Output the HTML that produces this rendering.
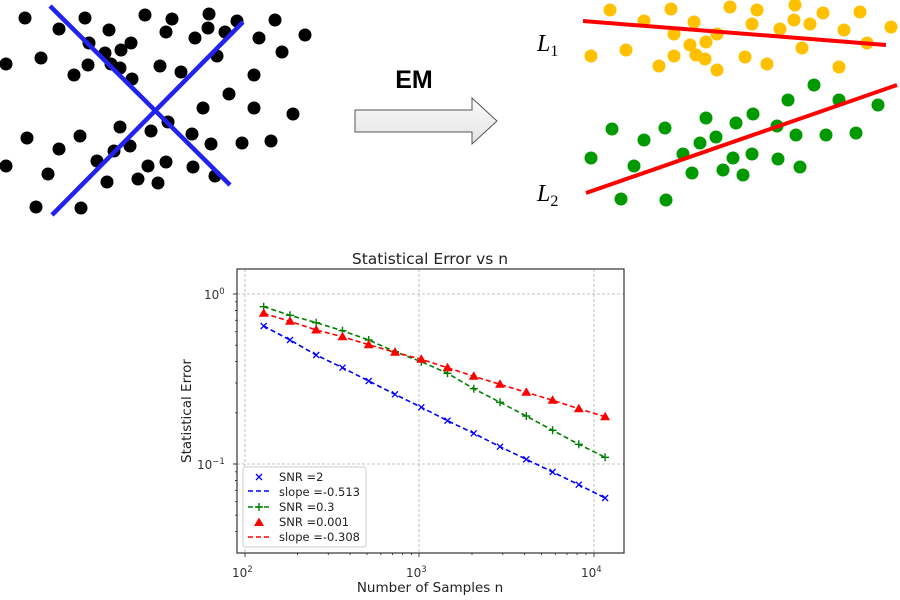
<!DOCTYPE html>
<html><head><meta charset="utf-8"><style>
html,body{margin:0;padding:0;background:#fff;width:900px;height:600px;overflow:hidden}
svg{display:block}
text{font-family:"DejaVu Sans","Liberation Sans",sans-serif}
</style></head><body>
<svg width="900" height="600" viewBox="0 0 900 600" xmlns="http://www.w3.org/2000/svg">
<g fill="#000">
<circle cx="25" cy="18" r="6.5"/><circle cx="85" cy="18" r="6.5"/><circle cx="59" cy="29" r="6.5"/><circle cx="109" cy="30" r="6.5"/><circle cx="145" cy="15" r="6.5"/><circle cx="172" cy="19" r="6.5"/><circle cx="209" cy="14" r="6.5"/><circle cx="237" cy="21" r="6.5"/><circle cx="275" cy="20" r="6.5"/><circle cx="305" cy="35" r="6.5"/><circle cx="166" cy="32" r="6.5"/><circle cx="195" cy="38" r="6.5"/><circle cx="208" cy="28" r="6.5"/><circle cx="225" cy="32" r="6.5"/><circle cx="259" cy="38" r="6.5"/><circle cx="282" cy="52" r="6.5"/><circle cx="89" cy="43" r="6.5"/><circle cx="131" cy="43" r="6.5"/><circle cx="121" cy="50" r="6.5"/><circle cx="105" cy="53" r="6.5"/><circle cx="6" cy="64" r="6.5"/><circle cx="41" cy="58" r="6.5"/><circle cx="88" cy="65" r="6.5"/><circle cx="111" cy="64" r="6.5"/><circle cx="120" cy="68" r="6.5"/><circle cx="74" cy="75" r="6.5"/><circle cx="132" cy="79" r="6.5"/><circle cx="160" cy="66" r="6.5"/><circle cx="181" cy="72" r="6.5"/><circle cx="217" cy="56" r="6.5"/><circle cx="254" cy="75" r="6.5"/><circle cx="229" cy="94" r="6.5"/><circle cx="203" cy="108" r="6.5"/><circle cx="254" cy="108" r="6.5"/><circle cx="293" cy="114" r="6.5"/><circle cx="168" cy="122" r="6.5"/><circle cx="120" cy="127" r="6.5"/><circle cx="151" cy="131" r="6.5"/><circle cx="192" cy="134" r="6.5"/><circle cx="211" cy="144" r="6.5"/><circle cx="242" cy="143" r="6.5"/><circle cx="271" cy="141" r="6.5"/><circle cx="27" cy="138" r="6.5"/><circle cx="80" cy="136" r="6.5"/><circle cx="59" cy="149" r="6.5"/><circle cx="114" cy="151" r="6.5"/><circle cx="130" cy="146" r="6.5"/><circle cx="6" cy="166" r="6.5"/><circle cx="48" cy="174" r="6.5"/><circle cx="97" cy="161" r="6.5"/><circle cx="148" cy="166" r="6.5"/><circle cx="166" cy="162" r="6.5"/><circle cx="193" cy="167" r="6.5"/><circle cx="215" cy="176" r="6.5"/><circle cx="107" cy="182" r="6.5"/><circle cx="138" cy="179" r="6.5"/><circle cx="158" cy="183" r="6.5"/><circle cx="36" cy="207" r="6.5"/><circle cx="81" cy="208" r="6.5"/>
</g>
<line x1="50" y1="6" x2="230" y2="185" stroke="#2222ee" stroke-width="4.5"/>
<line x1="52" y1="215" x2="243" y2="22" stroke="#2222ee" stroke-width="4.5"/>
<text x="414" y="88" font-size="25" font-weight="bold" text-anchor="middle" style="font-family:'Liberation Sans',sans-serif">EM</text>
<defs><linearGradient id="ag" x1="0" y1="0" x2="0" y2="1"><stop offset="0" stop-color="#fafafa"/><stop offset="1" stop-color="#e4e4e4"/></linearGradient></defs>
<polygon points="355,110 472,110 472,98 497,121 472,144 472,132 355,132" fill="url(#ag)" stroke="#555" stroke-width="1"/>
<g fill="#ffc000">
<circle cx="610" cy="10" r="6.5"/><circle cx="671" cy="9" r="6.5"/><circle cx="730" cy="7" r="6.5"/><circle cx="757" cy="10" r="6.5"/><circle cx="795" cy="5" r="6.5"/><circle cx="823" cy="13" r="6.5"/><circle cx="860" cy="12" r="6.5"/><circle cx="891" cy="27" r="6.5"/><circle cx="644" cy="21" r="6.5"/><circle cx="694" cy="22" r="6.5"/><circle cx="752" cy="24" r="6.5"/><circle cx="780" cy="29" r="6.5"/><circle cx="794" cy="20" r="6.5"/><circle cx="810" cy="24" r="6.5"/><circle cx="844" cy="30" r="6.5"/><circle cx="674" cy="34" r="6.5"/><circle cx="717" cy="34" r="6.5"/><circle cx="706" cy="42" r="6.5"/><circle cx="690" cy="45" r="6.5"/><circle cx="867" cy="43" r="6.5"/><circle cx="802" cy="48" r="6.5"/><circle cx="591" cy="56" r="6.5"/><circle cx="626" cy="50" r="6.5"/><circle cx="674" cy="56" r="6.5"/><circle cx="696" cy="55" r="6.5"/><circle cx="705" cy="59" r="6.5"/><circle cx="745" cy="57" r="6.5"/><circle cx="659" cy="66" r="6.5"/><circle cx="717" cy="70" r="6.5"/><circle cx="767" cy="64" r="6.5"/><circle cx="839" cy="67" r="6.5"/>
</g>
<g fill="#009900">
<circle cx="814" cy="85" r="6.5"/><circle cx="788" cy="100" r="6.5"/><circle cx="839" cy="100" r="6.5"/><circle cx="878" cy="105" r="6.5"/><circle cx="706" cy="118" r="6.5"/><circle cx="753" cy="114" r="6.5"/><circle cx="736" cy="123" r="6.5"/><circle cx="612" cy="129" r="6.5"/><circle cx="665" cy="128" r="6.5"/><circle cx="777" cy="126" r="6.5"/><circle cx="644" cy="140" r="6.5"/><circle cx="700" cy="143" r="6.5"/><circle cx="716" cy="137" r="6.5"/><circle cx="796" cy="135" r="6.5"/><circle cx="826" cy="135" r="6.5"/><circle cx="856" cy="133" r="6.5"/><circle cx="591" cy="158" r="6.5"/><circle cx="683" cy="154" r="6.5"/><circle cx="733" cy="158" r="6.5"/><circle cx="752" cy="154" r="6.5"/><circle cx="778" cy="159" r="6.5"/><circle cx="634" cy="166" r="6.5"/><circle cx="692" cy="173" r="6.5"/><circle cx="723" cy="170" r="6.5"/><circle cx="743" cy="175" r="6.5"/><circle cx="800" cy="167" r="6.5"/><circle cx="621" cy="199" r="6.5"/><circle cx="666" cy="200" r="6.5"/>
</g>
<line x1="583" y1="21" x2="886" y2="45" stroke="#ff0000" stroke-width="4"/>
<line x1="586" y1="193" x2="897" y2="85" stroke="#ff0000" stroke-width="4"/>
<text x="537" y="51" font-size="24" font-style="italic" style="font-family:'Liberation Serif',serif">L<tspan font-size="16" dy="5" font-style="normal">1</tspan></text>
<text x="537" y="201" font-size="24" font-style="italic" style="font-family:'Liberation Serif',serif">L<tspan font-size="16" dy="5" font-style="normal">2</tspan></text>

<text x="430" y="264" font-size="15.5" text-anchor="middle" fill="#222">Statistical Error vs n</text>
<g stroke="#b0b0b0" stroke-width="0.8" stroke-dasharray="3,2">
<line x1="245" y1="269" x2="245" y2="553"/><line x1="419" y1="269" x2="419" y2="553"/><line x1="594" y1="269" x2="594" y2="553"/>
<line x1="237" y1="294" x2="624" y2="294"/><line x1="237" y1="464" x2="624" y2="464"/>
</g>
<polyline fill="none" stroke="#0000ff" stroke-width="1.6" stroke-dasharray="5,3" points="263.7,326 290,340 316.2,355 342.5,367.7 368.7,381 395,394.3 421.3,407.3 447.5,420.7 473.8,433.3 500,446.7 526.3,459.3 552.6,472 578.8,484.7 605.1,498"/>
<g stroke="#0000ff" stroke-width="1.3">
<path d="M260.7,323l6,6m0,-6l-6,6M287,337l6,6m0,-6l-6,6M313.2,352l6,6m0,-6l-6,6M339.5,364.7l6,6m0,-6l-6,6M365.7,378l6,6m0,-6l-6,6M392,391.3l6,6m0,-6l-6,6M418.3,404.3l6,6m0,-6l-6,6M444.5,417.7l6,6m0,-6l-6,6M470.8,430.3l6,6m0,-6l-6,6M497,443.7l6,6m0,-6l-6,6M523.3,456.3l6,6m0,-6l-6,6M549.6,469l6,6m0,-6l-6,6M575.8,481.7l6,6m0,-6l-6,6M602.1,495l6,6m0,-6l-6,6"/>
</g>
<polyline fill="none" stroke="#008000" stroke-width="1.6" stroke-dasharray="5,3" points="263.7,306.7 290,315.3 316.2,322.7 342.5,330.7 368.7,340 395,351.7 421.3,361.7 447.5,373.3 473.8,388.7 500,402.3 526.3,416 552.6,430.3 578.8,444.3 605.1,457.3"/>
<g stroke="#008000" stroke-width="1.4">
<path d="M259.7,306.7h8m-4,-4v8M286,315.3h8m-4,-4v8M312.2,322.7h8m-4,-4v8M338.5,330.7h8m-4,-4v8M364.7,340h8m-4,-4v8M391,351.7h8m-4,-4v8M417.3,361.7h8m-4,-4v8M443.5,373.3h8m-4,-4v8M469.8,388.7h8m-4,-4v8M496,402.3h8m-4,-4v8M522.3,416h8m-4,-4v8M548.6,430.3h8m-4,-4v8M574.8,444.3h8m-4,-4v8M601.1,457.3h8m-4,-4v8"/>
</g>
<polyline fill="none" stroke="#ff0000" stroke-width="1.6" stroke-dasharray="5,3" points="263.7,313.3 290,321.3 316.2,330 342.5,336.7 368.7,344.7 395,352.3 421.3,359.3 447.5,367.7 473.8,376.3 500,384.3 526.3,392.3 552.6,400.3 578.8,408.7 605.1,416.7"/>
<g fill="#ff0000">
<path d="M263.7,308.3l5,8.5h-10zM290,316.3l5,8.5h-10zM316.2,325l5,8.5h-10zM342.5,331.7l5,8.5h-10zM368.7,339.7l5,8.5h-10zM395,347.3l5,8.5h-10zM421.3,354.3l5,8.5h-10zM447.5,362.7l5,8.5h-10zM473.8,371.3l5,8.5h-10zM500,379.3l5,8.5h-10zM526.3,387.3l5,8.5h-10zM552.6,395.3l5,8.5h-10zM578.8,403.7l5,8.5h-10zM605.1,411.7l5,8.5h-10z"/>
</g>
<rect x="237" y="269" width="387" height="284" fill="none" stroke="#333" stroke-width="1.2"/>
<g stroke="#333" stroke-width="0.9">
<path d="M245,553v4M419,553v4M594,553v4M237,294h-4M237,464h-4"/>
<path d="M297.5,553v2M328.3,553v2M350.1,553v2M367,553v2M380.8,553v2M392.5,553v2M402.6,553v2M411.5,553v2M472,553v2M502.8,553v2M524.6,553v2M541.5,553v2M555.3,553v2M567,553v2M577.1,553v2M586,553v2"/>
<path d="M237,531.6h-2M237,515.2h-2M237,501.7h-2M237,490.3h-2M237,480.5h-2M237,471.8h-2M237,412.8h-2M237,382.9h-2M237,361.6h-2M237,345.2h-2M237,331.7h-2M237,320.3h-2M237,310.5h-2M237,301.8h-2"/>
</g>
<g font-size="12" fill="#333">
<text x="232" y="577">10<tspan font-size="8.5" dy="-5">2</tspan></text>
<text x="406" y="577">10<tspan font-size="8.5" dy="-5">3</tspan></text>
<text x="581" y="577">10<tspan font-size="8.5" dy="-5">4</tspan></text>
<text x="204" y="299">10<tspan font-size="8.5" dy="-5">0</tspan></text>
<text x="197" y="469">10<tspan font-size="8.5" dy="-5">−1</tspan></text>
</g>
<text x="430" y="592" font-size="13.5" text-anchor="middle" fill="#222">Number of Samples n</text>
<text transform="translate(191,411) rotate(-90)" font-size="13.5" text-anchor="middle" fill="#222">Statistical Error</text>
<rect x="243" y="467" width="123" height="80" rx="2" fill="#fff" fill-opacity="0.85" stroke="#ccc" stroke-width="1"/>
<g font-size="11.5" fill="#222">
<path d="M256,474l6,6m0,-6l-6,6" stroke="#0000ff" stroke-width="1.3"/>
<text x="279" y="481">SNR =2</text>
<line x1="248" y1="491" x2="270" y2="491" stroke="#0000ff" stroke-width="1.6" stroke-dasharray="5,3"/>
<text x="279" y="496">slope =-0.513</text>
<line x1="248" y1="507" x2="270" y2="507" stroke="#008000" stroke-width="1.6" stroke-dasharray="5,3"/>
<path d="M255,507h8m-4,-4v8" stroke="#008000" stroke-width="1.4"/>
<text x="279" y="511">SNR =0.3</text>
<path d="M259,517.5l5,8.5h-10z" fill="#ff0000"/>
<text x="279" y="526">SNR =0.001</text>
<line x1="248" y1="537" x2="270" y2="537" stroke="#ff0000" stroke-width="1.6" stroke-dasharray="5,3"/>
<text x="279" y="541">slope =-0.308</text>
</g>
</svg>
</body></html>
